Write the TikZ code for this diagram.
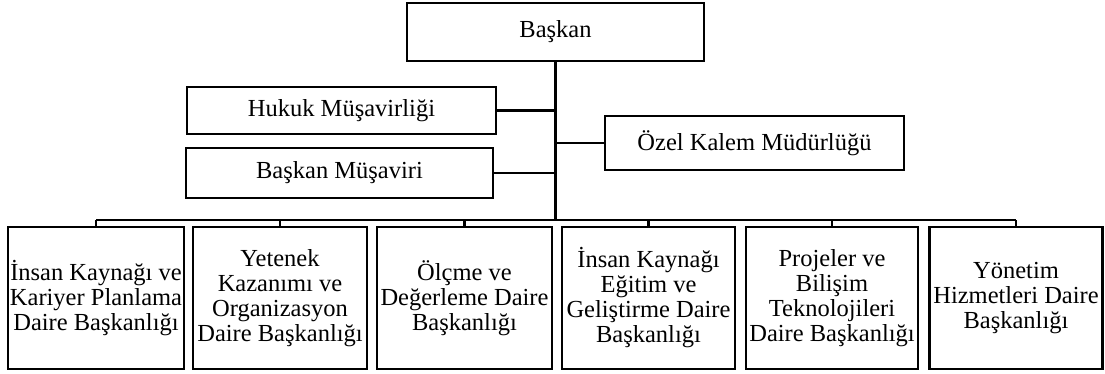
\documentclass[tikz,border=0pt]{standalone}
\usepackage{fontspec}
\setmainfont{Liberation Serif}
\begin{document}
\begin{tikzpicture}[x=1pt,y=-1pt,
  unit/.style={draw=black,line width=2.6pt,fill=white,inner sep=0pt,align=center,
    font=\fontsize{24.5}{25}\selectfont},
  link/.style={draw=black,line width=2.4pt},
  trunkline/.style={draw=black,line width=3pt}]
\useasboundingbox (0,0) rectangle (1105,374);

% top level and staff units
\node[unit,minimum width=297pt,minimum height=58pt] (bas) at (555.5,32) {Başkan};
\node[unit,minimum width=309pt,minimum height=47pt] (huk) at (341.5,110.5) {Hukuk Müşavirliği};
\node[unit,minimum width=307pt,minimum height=50pt] (mus) at (339.5,173) {Başkan Müşaviri};
\node[unit,minimum width=299pt,minimum height=54pt] (oze) at (754.5,143) {Özel Kalem Müdürlüğü};

% departments
\node[unit,minimum width=176pt,minimum height=142pt] (d1) at (96,298) {İnsan Kaynağı ve\\Kariyer Planlama\\Daire Başkanlığı};
\node[unit,minimum width=174pt,minimum height=142pt] (d2) at (280,298) {Yetenek\\Kazanımı ve\\Organizasyon\\Daire Başkanlığı};
\node[unit,minimum width=175pt,minimum height=142pt] (d3) at (464.5,298) {Ölçme ve\\Değerleme Daire\\Başkanlığı};
\node[unit,minimum width=173pt,minimum height=142pt] (d4) at (648.5,298) {İnsan Kaynağı\\Eğitim ve\\Geliştirme Daire\\Başkanlığı};
\node[unit,minimum width=172pt,minimum height=142pt] (d5) at (832,298) {Projeler ve\\Bilişim\\Teknolojileri\\Daire Başkanlığı};
\node[unit,minimum width=173pt,minimum height=142pt] (d6) at (1016,298) {Yönetim\\Hizmetleri Daire\\Başkanlığı};

% bus line
\coordinate (busL) at (96,220);
\coordinate (busR) at (1016,220);
\coordinate (junc) at (bas.south |- busL);

\draw[trunkline] (bas.south) -- (junc);
\draw[link] (busL) -- (busR);
\draw[link] (huk.east) -- (huk.east -| junc);
\draw[link] (mus.east) -- (mus.east -| junc);
\draw[link] (oze.west) -- (oze.west -| junc);
\foreach \d in {d1,d2,d3,d4,d5,d6}
  \draw[link] (\d.north) -- (\d.north |- busL);
\end{tikzpicture}
\end{document}
